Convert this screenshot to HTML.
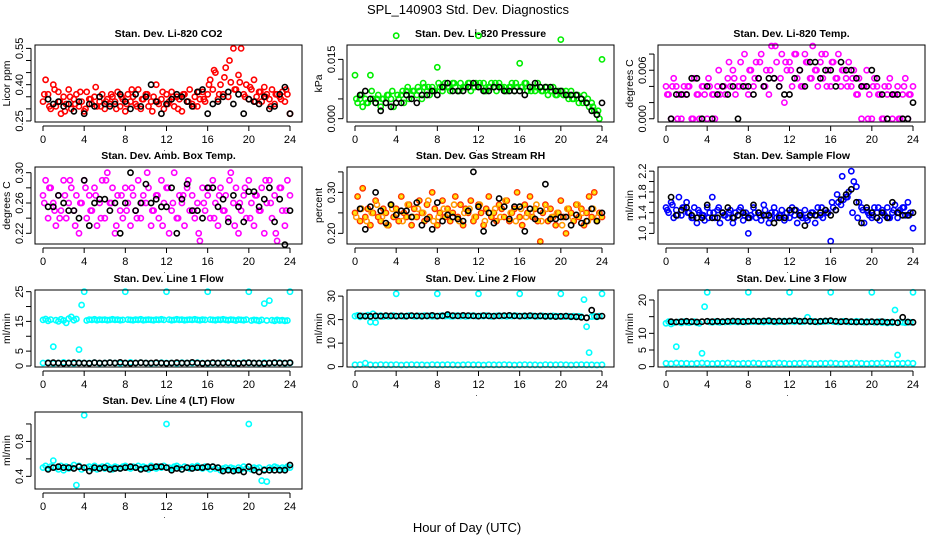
<!DOCTYPE html>
<html><head><meta charset="utf-8"><title>SPL_140903 Std. Dev. Diagnostics</title>
<style>
html,body{margin:0;padding:0;background:#fff;}
svg{display:block;font-family:"Liberation Sans",Arial,sans-serif;}
</style></head>
<body>
<svg id="chart" width="936" height="540" viewBox="0 0 936 540" xmlns="http://www.w3.org/2000/svg">
<rect x="0" y="0" width="936" height="540" fill="#fff"/>
<text x="468" y="14" text-anchor="middle" font-size="13">SPL_140903  Std. Dev. Diagnostics</text>
<text x="467" y="532" text-anchor="middle" font-size="13">Hour of Day (UTC)</text>
</svg>
<script>
// ---- categories (hours) ----
const hoursQ=[0,0.25,0.5,0.75,1,1.25,1.5,1.75,2,2.25,2.5,2.75,3,3.25,3.5,3.75,4,4.25,4.5,4.75,5,5.25,5.5,5.75,6,6.25,6.5,6.75,7,7.25,7.5,7.75,8,8.25,8.5,8.75,9,9.25,9.5,9.75,10,10.25,10.5,10.75,11,11.25,11.5,11.75,12,12.25,12.5,12.75,13,13.25,13.5,13.75,14,14.25,14.5,14.75,15,15.25,15.5,15.75,16,16.25,16.5,16.75,17,17.25,17.5,17.75,18,18.25,18.5,18.75,19,19.25,19.5,19.75,20,20.25,20.5,20.75,21,21.25,21.5,21.75,22,22.25,22.5,22.75,23,23.25,23.5,23.75,24];
const hoursH=[0.5,1,1.5,2,2.5,3,3.5,4,4.5,5,5.5,6,6.5,7,7.5,8,8.5,9,9.5,10,10.5,11,11.5,12,12.5,13,13.5,14,14.5,15,15.5,16,16.5,17,17.5,18,18.5,19,19.5,20,20.5,21,21.5,22,22.5,23,23.5,24];
const hoursH0=[0,0.5,1,1.5,2,2.5,3,3.5,4,4.5,5,5.5,6,6.5,7,7.5,8,8.5,9,9.5,10,10.5,11,11.5,12,12.5,13,13.5,14,14.5,15,15.5,16,16.5,17,17.5,18,18.5,19,19.5,20,20.5,21,21.5,22,22.5,23,23.5,24];
const hoursE=[0.125,0.625,1.125,1.625,2.125,2.625,3.125,3.625,4.125,4.625,5.125,5.625,6.125,6.625,7.125,7.625,8.125,8.625,9.125,9.625,10.125,10.625,11.125,11.625,12.125,12.625,13.125,13.625,14.125,14.625,15.125,15.625,16.125,16.625,17.125,17.625,18.125,18.625,19.125,19.625,20.125,20.625,21.125,21.625,22.125,22.625,23.125,23.625];
const xTicks=[0,4,8,12,16,20,24];

// ---- CO2 ----
const co2All=[.33,.42,.36,.30,.40,.31,.37,.28,.35,.32,.38,.30,
.34,.36,.31,.33,.29,.37,.34,.32,.35,.31,.33,.36,
.30,.34,.32,.35,.33,.37,.31,.34,.29,.36,.33,.35,
.32,.38,.30,.34,.36,.31,.33,.35,.40,.32,.34,.30,
.36,.33,.37,.31,.35,.34,.29,.36,.33,.38,.32,.35,
.31,.34,.37,.33,.36,.42,.38,.45,.34,.40,.36,.47,
.35,.41,.55,.38,.44,.55,.36,.40,.34,.38,.42,.35,
.37,.33,.39,.36,.34,.38,.32,.36,.35,.37,.33,.36,.28];
const co2Extra=[.36,.31,.38,.33,.29,.35,.32,.37,.30,.34,.39,.31,
.33,.36,.30,.35,.32,.38,.31,.34,.36,.29,.33,.37,
.32,.35,.30,.36,.33,.31,.37,.34,.40,.46,.36,.43,
.50,.38,.41,.35,.39,.33,.37,.35,.31,.36,.34,.38];
const co2Hr=[.34,.32,.33,.31,.32,.29,.33,.28,.32,.31,.35,.32,
.31,.32,.36,.33,.30,.36,.31,.35,.40,.33,.28,.32,
.34,.36,.35,.33,.31,.37,.38,.28,.32,.33,.35,.37,
.32,.36,.28,.34,.33,.32,.35,.30,.31,.36,.39,.28];
// ---- Pressure ----
const presAll=[.011,.004,.005,.003,.005,.004,.011,.005,.004,.006,.003,.005,
.004,.006,.005,.003,.021,.005,.006,.004,.007,.005,.006,.007,
.006,.007,.005,.008,.007,.006,.008,.007,.013,.008,.007,.009,
.008,.007,.009,.008,.007,.009,.008,.008,.009,.007,.008,.009,
.021,.008,.009,.007,.008,.009,.008,.007,.009,.008,.008,.007,
.008,.009,.007,.008,.014,.008,.009,.007,.008,.008,.007,.009,
.008,.007,.008,.006,.007,.008,.006,.007,.020,.006,.007,.005,
.007,.005,.006,.004,.005,.006,.004,.003,.004,.002,.001,.000,.015];
const presExtra=[.005,.006,.004,.007,.005,.005,.006,.007,.006,.007,.008,.007,
.008,.009,.008,.007,.009,.008,.008,.009,.007,.008,.009,.008,
.009,.007,.008,.009,.008,.007,.008,.009,.008,.009,.007,.008,
.007,.008,.007,.006,.007,.006,.005,.006,.004,.005,.003,.002];
const presHr=[.006,.007,.005,.004,.002,.004,.003,.004,.004,.006,.005,.004,
.006,.006,.007,.006,.008,.009,.007,.007,.007,.008,.009,.008,
.007,.007,.008,.008,.007,.007,.007,.007,.006,.008,.009,.008,
.008,.008,.007,.007,.006,.006,.006,.005,.004,.002,.001,.004];
// ---- Li-820 Temp ----
const tempAll=[.004,.003,0,.005,.004,.003,0,.004,.003,.004,0,.005,
.003,0,.004,.003,0,.004,.003,0,.004,.003,.004,.003,
.005,.004,.006,.003,.004,.007,.005,.004,.003,.006,.004,.007,
.005,.008,.004,.006,.003,.009,.005,.007,.004,.008,.002,.006,
.007,.004,.008,.005,.006,.004,.008,.007,.005,.009,.006,.004,
.007,.005,.008,.006,.004,.007,.005,.008,.004,.006,.005,.007,
.004,.006,.003,.005,0,.004,.006,.003,0,.005,.004,.003,
0,.004,.003,.005,0,.003,.004,0,.003,.005,0,.003,.004];
const tempExtra=[.003,.004,0,.003,.004,0,.003,.004,.005,.003,.006,.004,
.007,.005,.004,.008,.006,.005,.007,.004,.006,.009,.005,.007,
.006,.008,.004,.007,.005,.006,.008,.004,.007,.005,.006,.004,
.005,.003,.004,0,.004,.003,0,.004,.003,0,.004,.003];
const tempHr=[0,.003,.003,.003,.005,.005,0,.004,0,.003,.004,.003,
.004,0,.004,.004,.003,.005,.004,.005,.005,.004,.003,.003,
.005,.006,.004,.007,.007,.005,.006,.006,.004,.007,.006,.006,
.005,.004,.004,.006,.005,.003,0,.003,.003,0,0,.002];
// ---- Amb Box Temp ----
const ambAll=[.27,.29,.24,.28,.26,.23,.27,.25,.29,.24,.26,.28,
.25,.27,.22,.26,.29,.24,.27,.25,.28,.23,.26,.29,
.24,.30,.26,.28,.22,.27,.25,.24,.28,.26,.23,.27,
.25,.29,.24,.27,.26,.28,.23,.25,.27,.24,.29,.26,
.28,.22,.25,.30,.24,.27,.26,.23,.28,.25,.27,.24,
.26,.21,.28,.25,.27,.24,.29,.26,.23,.28,.25,.27,
.24,.30,.26,.28,.22,.25,.27,.24,.29,.26,.23,.27,
.25,.28,.22,.26,.29,.24,.27,.21,.28,.25,.23,.29,.27];
const ambExtra=[.26,.28,.25,.24,.27,.29,.23,.26,.28,.25,.27,.24,
.29,.26,.23,.27,.25,.28,.24,.26,.30,.25,.27,.23,
.28,.26,.24,.27,.29,.25,.22,.26,.28,.24,.27,.25,
.29,.23,.26,.28,.24,.27,.25,.29,.26,.22,.28,.25];
const ambHr=[.255,.255,.27,.26,.25,.25,.24,.29,.23,.26,.265,.265,
.25,.26,.22,.26,.30,.25,.26,.285,.26,.265,.255,.255,
.28,.22,.265,.285,.25,.25,.24,.28,.28,.255,.265,.235,
.27,.255,.235,.275,.275,.255,.265,.28,.235,.265,.205,.25];
// ---- Gas Stream RH ----
const rhAll=[.25,.29,.23,.31,.24,.26,.22,.25,.28,.24,.23,.26,
.25,.22,.27,.24,.26,.23,.29,.25,.24,.27,.22,.26,
.24,.28,.25,.23,.27,.24,.30,.26,.22,.25,.28,.24,
.26,.23,.25,.29,.24,.27,.22,.26,.25,.28,.23,.24,
.27,.25,.22,.26,.29,.24,.25,.23,.27,.26,.24,.28,
.23,.25,.26,.30,.24,.22,.27,.25,.29,.24,.26,.23,
.18,.25,.27,.23,.26,.24,.22,.25,.28,.24,.20,.26,
.25,.23,.27,.24,.26,.22,.25,.29,.24,.30,.23,.25,.24];
const rhExtra=[.24,.26,.23,.25,.27,.24,.22,.26,.25,.23,.27,.24,
.26,.25,.28,.23,.24,.26,.25,.27,.23,.25,.26,.24,
.27,.23,.25,.26,.24,.28,.25,.23,.26,.24,.25,.27,
.23,.26,.24,.25,.22,.26,.24,.27,.25,.23,.26,.24];
const rhHr=[.26,.21,.265,.30,.255,.225,.27,.245,.255,.255,.24,.275,
.22,.235,.21,.275,.23,.245,.24,.235,.23,.255,.35,.265,
.205,.25,.225,.285,.265,.235,.265,.265,.205,.26,.235,.255,
.32,.235,.235,.24,.24,.22,.245,.225,.23,.26,.23,.25];
// ---- Sample Flow ----
const flowAll=[1.5,1.4,1.6,1.3,1.45,1.7,1.35,1.5,1.6,1.4,1.3,1.5,
1.2,1.4,1.35,1.25,1.5,1.4,1.7,1.3,1.45,1.2,1.4,1.35,
1.3,1.45,1.2,1.4,1.35,1.5,1.25,1.4,1.0,1.35,1.5,1.3,
1.4,1.25,1.55,1.35,1.2,1.4,1.5,1.3,1.35,1.45,1.25,1.4,
1.3,1.5,1.35,1.2,1.4,1.3,1.45,1.25,1.35,1.4,1.2,1.5,
1.35,1.3,1.45,1.4,0.85,1.5,1.45,1.6,1.55,1.65,1.7,1.8,
2.2,2.0,1.9,1.6,1.5,1.2,1.45,1.35,1.3,1.5,1.4,1.25,
1.45,1.35,1.5,1.3,1.4,1.55,1.3,1.45,1.5,1.35,1.6,1.4,1.1];
const flowExtra=[1.45,1.55,1.35,1.5,1.4,1.3,1.45,1.35,1.3,1.4,1.5,1.35,
1.4,1.3,1.45,1.35,1.3,1.4,1.35,1.45,1.3,1.4,1.35,1.3,
1.4,1.45,1.35,1.3,1.4,1.35,1.5,1.4,1.6,1.75,2.1,1.7,
1.4,1.3,1.45,1.4,1.35,1.5,1.4,1.3,1.45,1.4,1.5,1.35];
const flowHr=[1.7,1.35,1.45,1.5,1.35,1.3,1.3,1.55,1.3,1.3,1.4,1.5,
1.3,1.35,1.4,1.3,1.55,1.4,1.35,1.35,1.2,1.3,1.3,1.45,
1.45,1.35,1.15,1.35,1.35,1.4,1.45,1.35,1.45,1.65,1.75,1.85,
1.6,1.2,1.5,1.4,1.3,1.4,1.3,1.6,1.4,1.35,1.35,1.4];
// ---- Line 1 ----
const l1High=[15.5,15.8,15.2,15.6,6.5,15.4,15.0,15.7,15.3,14.5,15.9,16.5,
15.4,15.8,5.5,20.5,25,15.3,15.6,15.5,15.7,15.4,15.6,15.5,
15.6,15.4,15.5,15.7,15.5,15.6,15.4,15.5,25,15.6,15.5,15.4,
15.6,15.5,15.7,15.4,15.5,15.6,15.5,15.4,15.6,15.5,15.7,15.5,
25,15.6,15.4,15.5,15.7,15.5,15.6,15.4,15.5,15.6,15.5,15.7,
15.5,15.4,15.6,15.5,25,15.6,15.5,15.4,15.6,15.5,15.7,15.5,
15.4,15.6,15.5,15.3,15.6,15.5,15.4,15.6,25,15.3,15.5,15.4,
15.2,15.5,21,15.3,22,15.4,15.2,15.5,15.3,15.4,15.2,15.3,25];
const l1Low=[1.0,1.1,0.9,1.0,1.2,1.0,0.9,1.1,1.0,1.0,1.1,0.9,
1.0,1.1,1.0,0.9,1.0,1.2,1.0,1.1,1.0,0.9,1.0,1.1,
1.0,1.0,0.9,1.1,1.0,1.0,1.1,1.0,0.9,1.0,1.0,1.1,
1.0,0.9,1.0,1.1,1.0,1.0,0.9,1.1,1.0,1.0,1.1,0.9,1.0];
const l1Hr=[1.0,1.1,1.0,0.9,1.0,1.1,1.0,1.0,0.9,1.1,1.0,1.0,
1.1,1.0,1.2,1.0,0.9,1.0,1.1,1.0,1.0,1.1,1.0,0.9,
1.0,1.1,1.0,1.0,1.2,1.0,0.9,1.0,1.1,1.0,1.0,1.1,
1.0,0.9,1.0,1.1,1.0,1.0,0.9,1.0,1.1,1.0,1.0,1.1];
// ---- Line 2 ----
const l2High=[21.5,21.8,21.2,21.6,21.4,21.9,19.0,22.5,18.8,21.5,21.7,21.3,
21.6,21.4,21.5,21.7,31,21.5,21.6,21.4,21.5,21.7,21.6,21.4,
21.5,21.6,21.4,21.7,21.5,21.6,21.4,21.5,31,21.6,21.7,21.5,
21.6,21.5,21.4,21.6,21.7,21.5,21.6,21.4,21.5,21.6,21.7,21.5,
31,21.6,21.5,21.7,21.6,21.4,21.5,21.6,21.7,21.5,21.6,21.4,
21.6,21.5,21.7,21.6,31,21.5,21.6,21.4,21.5,21.6,21.5,21.4,
21.5,21.6,21.4,21.5,21.3,21.6,21.5,21.4,31,21.3,21.5,21.4,
21.2,21.5,21.3,21.4,21.2,28.5,17,6,21.3,21.4,21.2,21.5,31];
const l2Low=[0.8,0.9,1.5,0.8,0.7,0.9,0.8,0.8,0.9,0.7,0.8,0.9,
0.8,0.8,0.7,0.9,0.8,0.8,0.9,0.8,0.7,0.8,0.9,0.8,
0.8,0.7,0.9,0.8,0.8,0.9,0.8,0.7,0.8,0.9,0.8,0.8,
0.7,0.9,0.8,0.8,0.9,0.8,0.7,0.8,0.9,0.8,0.8,0.7,0.8];
const l2Hr=[21.6,21.5,21.4,21.6,21.5,21.7,21.6,21.5,21.6,21.5,21.7,21.6,
21.5,21.6,21.8,21.5,21.6,22.2,21.7,21.6,21.8,21.7,21.6,21.5,
21.7,21.6,21.5,21.6,21.7,21.8,21.6,21.5,21.6,21.7,21.5,21.6,
21.4,21.5,21.3,21.4,21.5,21.3,21.2,21.0,20.8,24.0,21.3,21.5];
// ---- Line 3 ----
const l3High=[13.0,13.5,12.8,13.2,6.0,13.4,13.1,13.5,13.3,13.2,13.4,13.5,
13.2,13.0,4.0,18.0,22.3,13.4,13.3,13.5,13.4,13.3,13.5,13.4,
13.5,13.4,13.6,13.5,13.4,13.5,13.6,13.4,22.3,13.5,13.6,13.5,
13.6,13.5,13.4,13.6,13.5,13.6,13.5,13.4,13.6,13.5,13.7,13.5,
22.3,13.6,13.5,13.7,13.6,13.5,13.6,14.8,13.5,13.6,13.5,13.4,
13.6,13.5,13.7,13.6,22.3,13.5,13.6,13.4,13.5,13.6,13.5,13.4,
13.5,13.4,13.6,13.5,13.4,13.3,13.5,13.4,22.3,13.3,13.4,13.5,
13.2,13.4,13.1,13.3,13.2,17.0,3.5,13.4,13.3,13.2,13.4,13.3,22.3];
const l3Low=[1.0,0.9,1.1,1.0,1.0,0.9,1.0,1.1,1.0,0.9,1.0,1.0,
1.1,1.0,0.9,1.0,1.0,1.1,1.0,0.9,1.0,1.0,1.1,1.0,
0.9,1.0,1.0,1.1,1.0,0.9,1.0,1.0,1.1,1.0,0.9,1.0,
1.0,1.1,1.0,0.9,1.0,1.0,1.1,1.0,0.9,1.0,1.0,1.1,1.0];
const l3Hr=[13.5,13.4,13.5,13.6,13.5,13.4,13.5,13.6,13.5,13.6,13.5,13.6,
13.7,13.6,13.5,13.6,13.7,13.6,13.7,13.8,13.6,13.7,13.6,13.7,
13.8,13.6,13.7,13.6,13.5,13.6,13.7,13.8,13.6,13.5,13.6,13.5,
13.4,13.5,13.4,13.5,13.4,13.5,13.3,13.4,13.2,14.8,13.4,13.3];
// ---- Line 4 ----
const l4All=[.50,.52,.49,.51,.58,.50,.48,.52,.47,.51,.49,.50,
.53,.30,.52,.48,1.10,.50,.51,.49,.52,.48,.50,.51,
.49,.52,.50,.48,.51,.50,.49,.51,.52,.50,.49,.51,
.50,.52,.49,.51,.50,.48,.52,.50,.49,.51,.50,.52,
1.00,.50,.49,.51,.52,.50,.48,.51,.50,.49,.51,.50,
.52,.50,.49,.51,.50,.48,.51,.49,.50,.47,.49,.50,
.48,.50,.49,.47,.50,.48,.51,.49,1.00,.48,.50,.49,
.50,.35,.48,.34,.50,.49,.51,.50,.48,.50,.49,.51,.50];
const l4Hr=[.48,.50,.51,.50,.50,.49,.51,.50,.46,.50,.49,.50,
.48,.49,.49,.50,.51,.50,.48,.49,.50,.51,.51,.50,
.47,.49,.48,.50,.49,.50,.50,.51,.51,.50,.46,.47,
.46,.47,.45,.51,.47,.45,.47,.47,.47,.47,.47,.53];

// ---- tick definitions ----
const co2Ticks=[0.25,0.30,0.35,0.40,0.45,0.50,0.55], co2Labels=["0.25","","","0.40","","","0.55"];
const presTicks=[0,0.005,0.010,0.015], presLabels=["0.000","","","0.015"];
const tempTicks=[0,0.002,0.004,0.006,0.008], tempLabels=["0.000","","","0.006",""];
const ambTicks=[0.22,0.24,0.26,0.28,0.30], ambLabels=["0.22","","0.26","","0.30"];
const rhTicks=[0.20,0.25,0.30,0.35], rhLabels=["0.20","","0.30",""];
const flowTicks=[1.0,1.2,1.4,1.6,1.8,2.0,2.2], flowLabels=["1.0","","1.4","","1.8","","2.2"];
const l1Ticks=[0,5,10,15,20,25], l1Labels=["0","5","","15","","25"];
const l2Ticks=[0,10,20,30], l2Labels=["0","10","20","30"];
const l3Ticks=[0,5,10,15,20], l3Labels=["0","5","10","","20"];
const l4Ticks=[0.4,0.6,0.8,1.0], l4Labels=["0.4","","0.8",""];

const NS="http://www.w3.org/2000/svg";
const svg=document.getElementById('chart');
function mk(tag,attrs,parent){const e=document.createElementNS(NS,tag);for(const k in attrs)e.setAttribute(k,attrs[k]);(parent||svg).appendChild(e);return e;}

const panels=[
 {key:'co2',title:'Stan. Dev. Li-820 CO2',ylab:'Licor ppm',col:0,row:0,ymin:0.2457,ymax:0.564,ticks:co2Ticks,labels:co2Labels,
  series:[{h:hoursQ,v:co2All,c:'#ff0000'},{h:hoursE,v:co2Extra,c:'#ff0000'},{h:hoursH,v:co2Hr,c:'#000000'}]},
 {key:'pressure',title:'Stan. Dev. Li-820 Pressure',ylab:'kPa',col:1,row:0,ymin:-0.00084,ymax:0.01864,ticks:presTicks,labels:presLabels,
  series:[{h:hoursQ,v:presAll,c:'#00ee00'},{h:hoursE,v:presExtra,c:'#00ee00'},{h:hoursH,v:presHr,c:'#000000'}]},
 {key:'li820-temp',title:'Stan. Dev. Li-820 Temp.',ylab:'degrees C',col:2,row:0,ymin:-0.0004,ymax:0.00912,ticks:tempTicks,labels:tempLabels,
  series:[{h:hoursQ,v:tempAll,c:'#ff00ff'},{h:hoursE,v:tempExtra,c:'#ff00ff'},{h:hoursH,v:tempHr,c:'#000000'}]},
 {key:'amb-temp',title:'Stan. Dev. Amb. Box Temp.',ylab:'degrees C',col:0,row:1,ymin:0.2059,ymax:0.3075,ticks:ambTicks,labels:ambLabels,
  series:[{h:hoursQ,v:ambAll,c:'#ff00ff'},{h:hoursE,v:ambExtra,c:'#ff00ff'},{h:hoursH,v:ambHr,c:'#000000'}]},
 {key:'rh',title:'Stan. Dev. Gas Stream RH',ylab:'percent',col:1,row:1,ymin:0.174,ymax:0.362,ticks:rhTicks,labels:rhLabels,
  series:[{h:hoursQ,v:rhAll,c:'#ff3300'},{h:hoursE,v:rhExtra,c:'#ff9900'},{h:hoursQ,v:rhAll,c:'#ffdd00',inner:true},{h:hoursH,v:rhHr,c:'#000000'}]},
 {key:'sample-flow',title:'Stan. Dev. Sample Flow',ylab:'ml/min',col:2,row:1,ymin:0.796,ymax:2.28,ticks:flowTicks,labels:flowLabels,
  series:[{h:hoursQ,v:flowAll,c:'#0000ff'},{h:hoursE,v:flowExtra,c:'#0000ff'},{h:hoursH,v:flowHr,c:'#000000'}]},
 {key:'line1',title:'Stan. Dev. Line 1 Flow',ylab:'ml/min',col:0,row:2,ymin:-0.34,ymax:25.56,ticks:l1Ticks,labels:l1Labels,
  series:[{h:hoursQ,v:l1High,c:'#00ffff'},{h:hoursH0,v:l1Low,c:'#00ffff'},{h:hoursH,v:l1Hr,c:'#000000'}]},
 {key:'line2',title:'Stan. Dev. Line 2 Flow',ylab:'ml/min',col:1,row:2,ymin:-0.14,ymax:32.6,ticks:l2Ticks,labels:l2Labels,
  series:[{h:hoursQ,v:l2High,c:'#00ffff'},{h:hoursH0,v:l2Low,c:'#00ffff'},{h:hoursH,v:l2Hr,c:'#000000'}]},
 {key:'line3',title:'Stan. Dev. Line 3 Flow',ylab:'ml/min',col:2,row:2,ymin:-0.1,ymax:23,ticks:l3Ticks,labels:l3Labels,
  series:[{h:hoursQ,v:l3High,c:'#00ffff'},{h:hoursH0,v:l3Low,c:'#00ffff'},{h:hoursH,v:l3Hr,c:'#000000'}]},
 {key:'line4',title:'Stan. Dev. Line 4 (LT) Flow',ylab:'ml/min',col:0,row:3,ymin:0.255,ymax:1.137,ticks:l4Ticks,labels:l4Labels,
  series:[{h:hoursQ,v:l4All,c:'#00ffff'},{h:hoursH,v:l4Hr,c:'#000000'}]}
];
const lefts=[35,347,658], tops=[45,167,290,412], W=267, H=77;

panels.forEach(p=>{
  const L=lefts[p.col], T=tops[p.row], B=T+H;
  const xs=h=>L+8+h*(247/24);
  const ys=v=>B-(v-p.ymin)/(p.ymax-p.ymin)*H;
  const g=mk('g',{});
  
  
  const t=mk('text',{x:L+W/2,y:T-8,'text-anchor':'middle','font-size':'10.5','font-weight':'bold'},g);
  t.textContent=p.title;
  
  
  const yl=mk('text',{x:0,y:0,'text-anchor':'middle','font-size':'10.5',transform:`translate(${L-25},${T+H/2}) rotate(-90)`},g);
  yl.textContent=p.ylab;
  
  
  const pg=mk('g',{fill:'none','stroke-width':'1.6'},g);
  
  
  p.series.forEach(s=>{
    const n=Math.min(s.h.length,s.v.length);
    for(let i=0;i<n;i++){
      const c=mk('circle',{cx:xs(s.h[i]).toFixed(1),cy:ys(s.v[i]).toFixed(1),r:s.inner?1.2:2.6,stroke:s.c},pg);
      
      
    }
  });
  const box=mk('rect',{x:L,y:T,width:W,height:H,fill:'none',stroke:'#000','stroke-width':'1'},g);
  
  
  const xa=mk('line',{x1:xs(0),x2:xs(24),y1:B+4,y2:B+4,stroke:'#000'},g);
  
  
  xTicks.forEach(h=>{
    mk('line',{x1:xs(h),x2:xs(h),y1:B+4,y2:B+9,stroke:'#000'},g);
    const tl=mk('text',{x:xs(h),y:B+21,'text-anchor':'middle','font-size':'11'},g);
    tl.textContent=String(h);
    
    
  });
  const dot=mk('text',{x:L+W/2-4,y:B+29,'text-anchor':'middle','font-size':'8'},g);
  dot.textContent='.';
  
  
  const y0=ys(p.ticks[0]), y1=ys(p.ticks[p.ticks.length-1]);
  const ya=mk('line',{x1:L-4,x2:L-4,y1:y0,y2:y1,stroke:'#000'},g);
  
  
  p.ticks.forEach((v,i)=>{
    const yy=ys(v);
    mk('line',{x1:L-9,x2:L-4,y1:yy,y2:yy,stroke:'#000'},g);
    if(p.labels[i]){
      const tl=mk('text',{x:0,y:0,'text-anchor':'middle','font-size':'11',transform:`translate(${L-12},${yy}) rotate(-90)`},g);
      tl.textContent=p.labels[i];
      
      
    }
  });
});
</script>
</body></html>
